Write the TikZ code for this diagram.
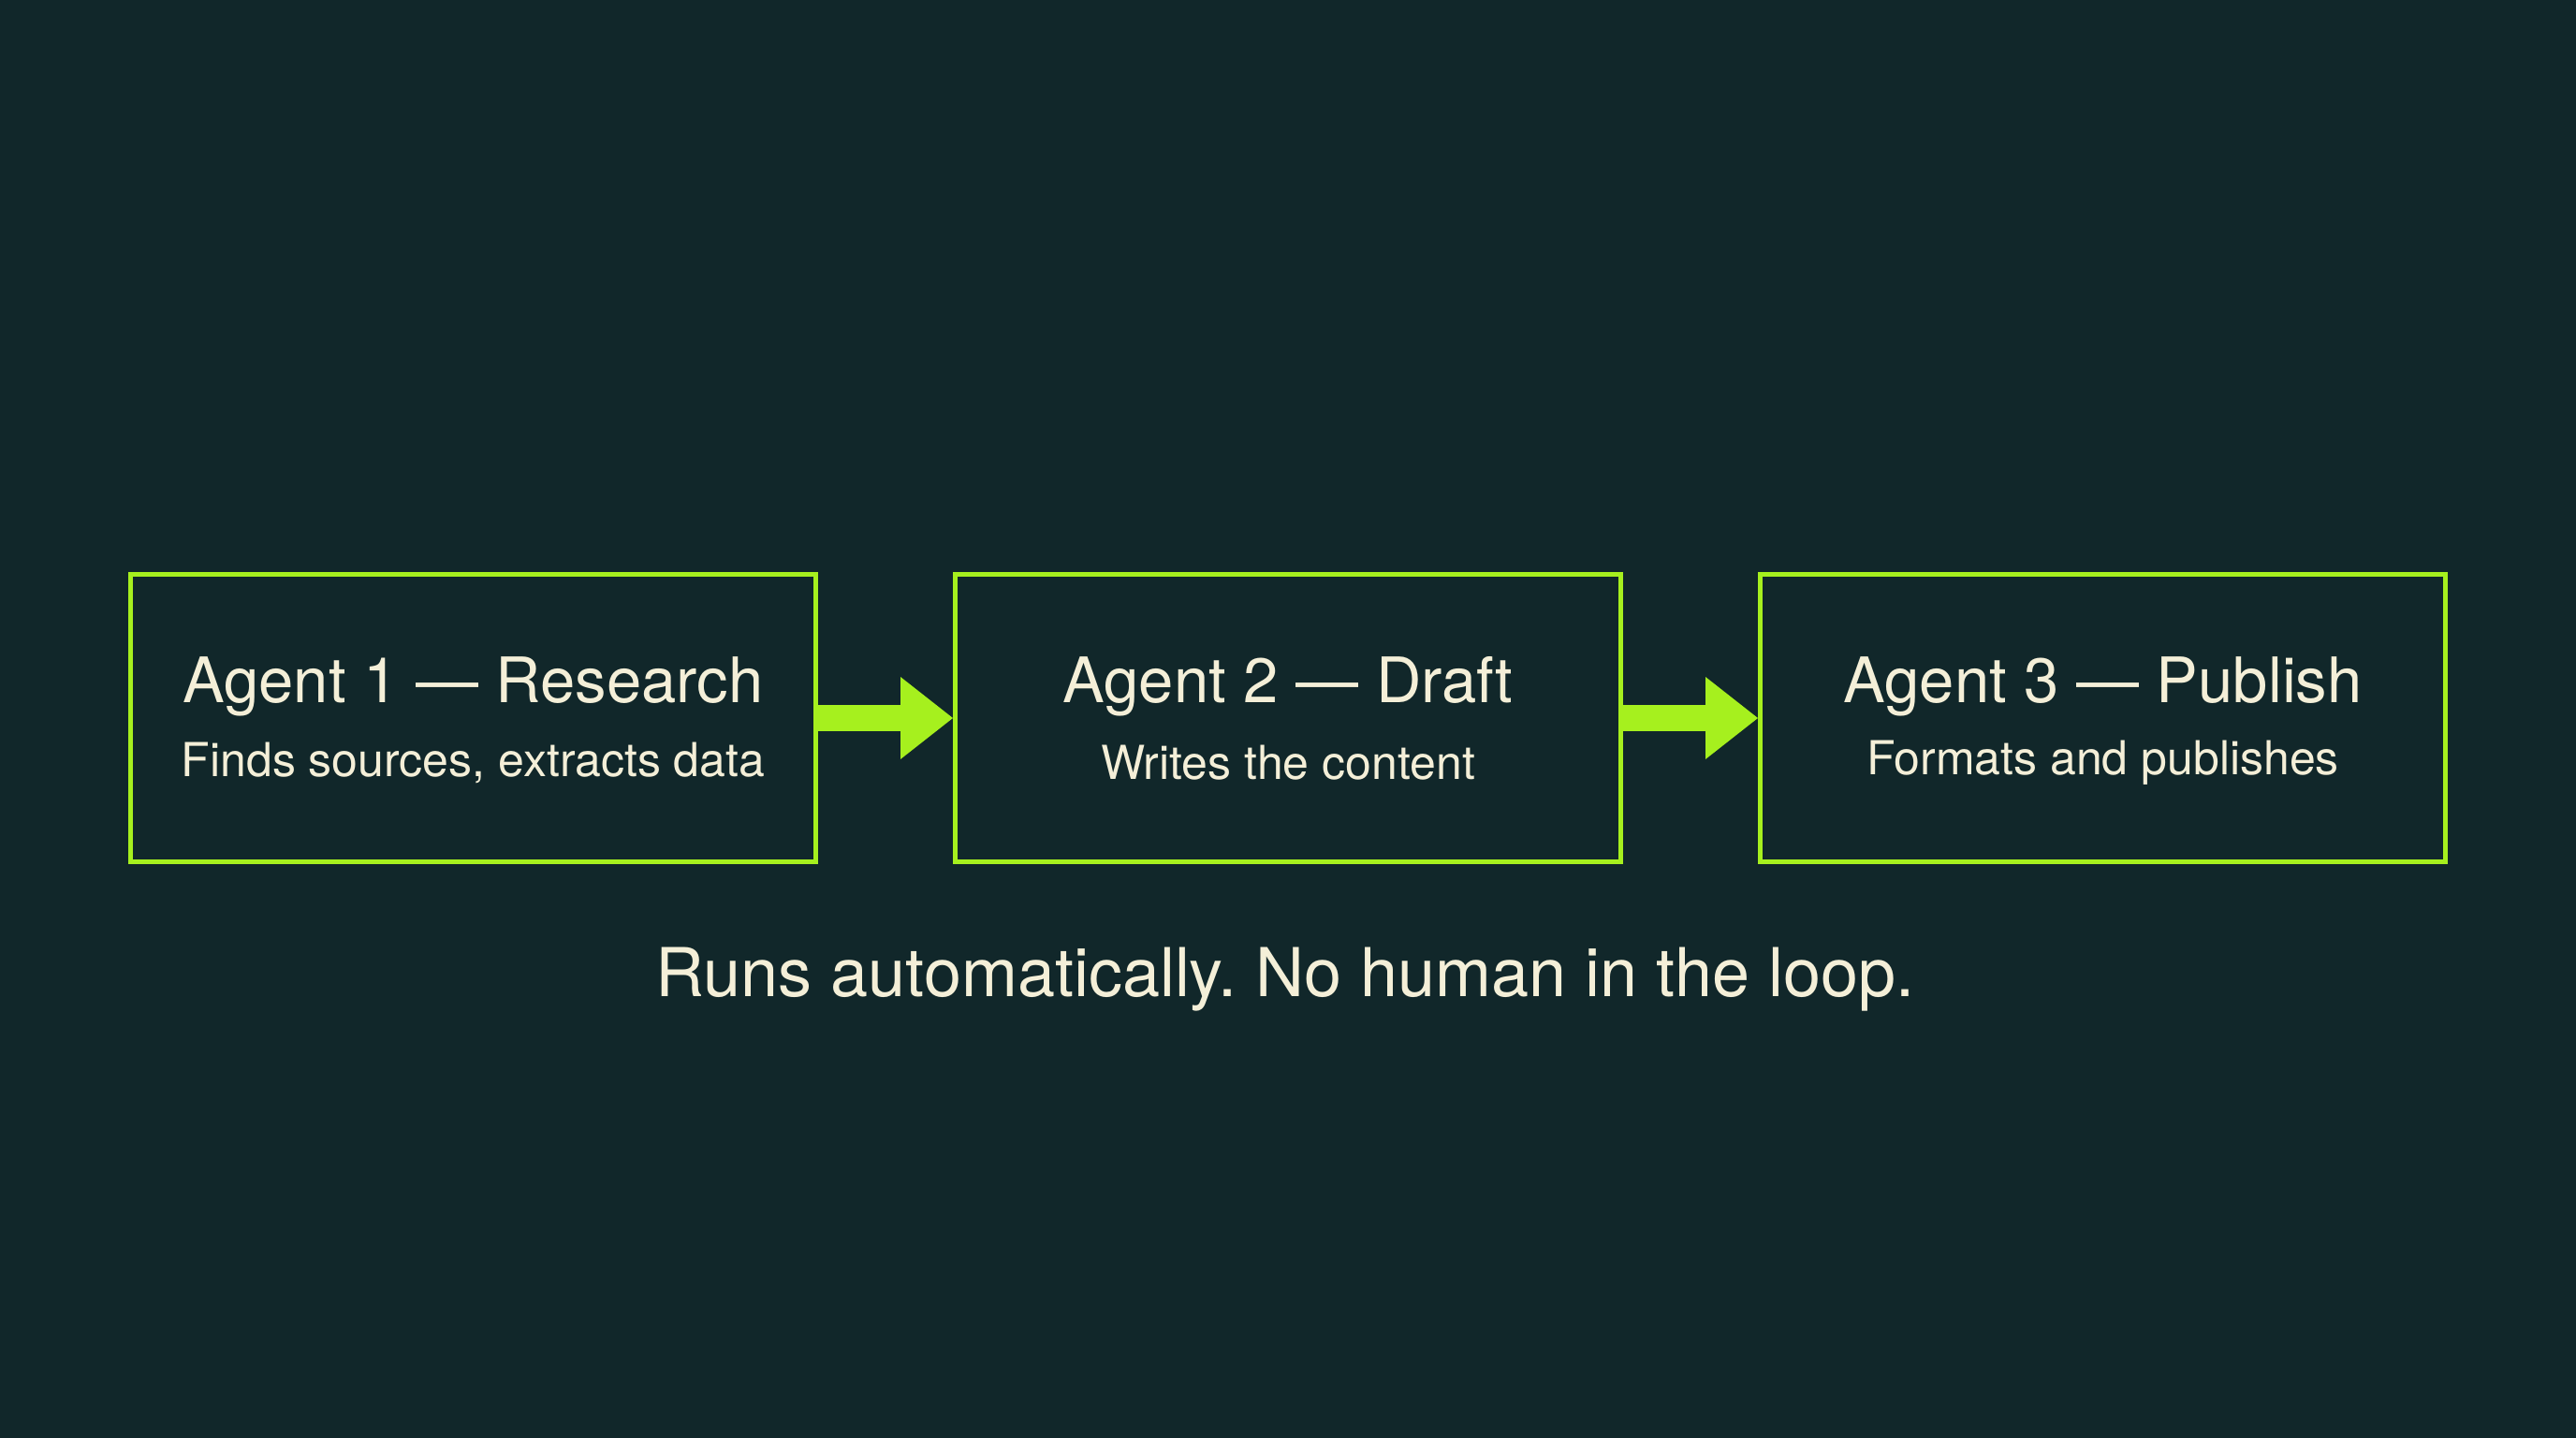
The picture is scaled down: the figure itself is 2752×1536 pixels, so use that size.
\documentclass[tikz,border=0pt]{standalone}
\usepackage{fontspec}
\setmainfont{TeX Gyre Heros}
\usetikzlibrary{arrows.meta}
\definecolor{bg}{HTML}{11272A}
\definecolor{lime}{HTML}{A6F01E}
\definecolor{cream}{HTML}{F4EFD8}
\frenchspacing
\begin{document}
\begin{tikzpicture}[x=1pt,y=-1pt,
  agentbox/.style={draw=lime, line width=5pt, minimum height=307pt, inner sep=0pt},
  titletext/.style={text=cream, font=\fontsize{67}{70}\selectfont, inner sep=0pt},
  subtext/.style={text=cream, font=\fontsize{50}{54}\selectfont, inner sep=0pt},
  flow/.style={draw=lime, line width=28pt, -{Triangle[width=88pt,length=56pt,line width=0pt]}}]
\fill[bg] (0,0) rectangle (2752,1536);
\useasboundingbox (0,0) rectangle (2752,1536);
\node[agentbox, minimum width=732pt] (b1) at (505.5,767) {};
\node[agentbox, minimum width=711pt] (b2) at (1376,767) {};
\node[agentbox, minimum width=732pt] (b3) at (2246.5,767) {};
\node[titletext] (t1) at ([yshift=34pt]b1.center) {Agent 1 — Research};
\node[subtext] (s1) at ([yshift=-48pt]b1.center) {Finds sources, extracts data};
\node[titletext] (t2) at ([yshift=34pt]b2.center) {Agent 2 — Draft};
\node[subtext] (s2) at ([yshift=-48pt]b2.center) {Writes the content};
\node[titletext] (t3) at ([yshift=34pt]b3.center) {Agent 3 — Publish};
\node[subtext] (s3) at ([yshift=-48pt]b3.center) {Formats and publishes};
\draw[flow] (b1.east) -- (b2.west);
\draw[flow] (b2.east) -- (b3.west);
\node[text=cream, font=\fontsize{72}{75}\selectfont, inner sep=0pt] (foot) at (1373,1046) {Runs automatically. No human in the loop.};
\end{tikzpicture}
\end{document}
